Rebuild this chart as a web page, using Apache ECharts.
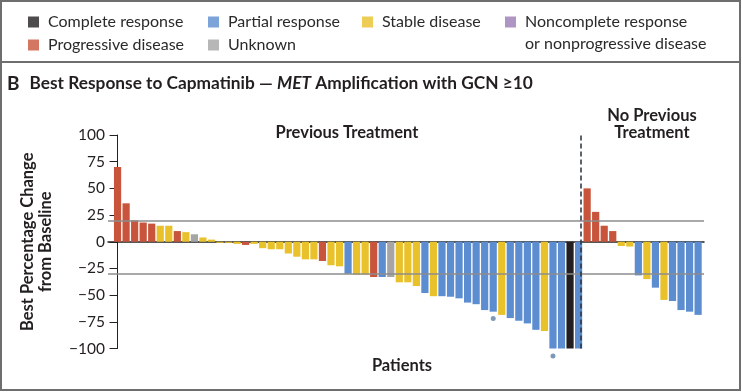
<!DOCTYPE html>
<html><head><meta charset="utf-8">
<script src="https://cdn.jsdelivr.net/npm/echarts@6/dist/echarts.min.js"></script>
<style>html,body{margin:0;padding:0;background:#fff}#c{width:742px;height:392px}</style>
</head><body><div id="c"></div>
<script>
// ---- data ----
const responseNames = {
  CR: 'Complete response',
  PR: 'Partial response',
  SD: 'Stable disease',
  NCR: 'Noncomplete response or nonprogressive disease',
  PD: 'Progressive disease',
  UNK: 'Unknown'
};
const responseColors = { CR: '#231f20', PR: '#5b8dd0', SD: '#e9c12b', NCR: '#9b7bb5', PD: '#c8543b', UNK: '#a5a5a5' };

const previousCodes = ['PD','PD','PD','PD','PD','SD','SD','PD','SD','UNK',
  'SD','SD','SD','SD','SD','PD','SD','SD','SD','SD',
  'SD','SD','SD','SD','PD','SD','SD','PR','SD','SD',
  'PD','PR','UNK','SD','SD','SD','PR','SD','PR','PR',
  'PR','PR','PR','PR','PR','SD','PR','PR','PR','PR',
  'SD','PR','PR','CR','PR'];
const previousValues = [70,36,20,18,17,15,15,10,9,7,
  4,2,-1,-1,-2,-3,-2,-6,-7,-7,
  -11,-14,-16.5,-16.5,-18,-22,-23,-30,-31,-31,
  -33,-33,-33,-38,-38,-41.5,-48,-51,-51,-51.5,
  -53,-57,-58.5,-64,-65.5,-68.5,-71.5,-74,-76.5,-82.5,
  -83.5,-100,-100,-100,-100];
const noPreviousCodes = ['PD','PD','PD','PD','SD','SD','PR','SD','PR','SD','PR','PR','PR','PR'];
const noPreviousValues = [50,28,15,10,-4,-4.5,-31.5,-35,-43,-54.5,-55.5,-64,-65.5,-68.5];

// dot markers below bars (patient index 0-based, value)
const dotMarkers = [[44, -72], [51, -107]];
const yTicks = [-100, -75, -50, -25, 0, 25, 50, 75, 100];
const referenceLines = [20, -30];

// ---- build ----
const allCodes = previousCodes.concat(noPreviousCodes);
const allValues = previousValues.concat(noPreviousValues);
const dividerAt = previousValues.length - 0.7;

const barData = allValues.map((v, i) => ({ value: [i, v], itemStyle: { color: responseColors[allCodes[i]] } }));
const FONT = 'Lato';
const TXT = '#231f20';

const legendOrder = ['CR','PR','SD','NCR','PD','UNK'];
const legendPos = {
  CR: [28, 11], PR: [208, 11], SD: [362, 11], NCR: [505, 11],
  PD: [28, 34], UNK: [208, 34]
};
const legends = legendOrder.map(k => {
  const multi = k === 'NCR';
  return {
    data: [responseNames[k]],
    left: legendPos[k][0], top: legendPos[k][1],
    padding: 0,
    icon: multi ? 'path://M0,0H11V11H0ZM0,33' : 'rect',
    itemWidth: 11, itemHeight: multi ? 33 : 11,
    selectedMode: false,
    formatter: multi ? 'Noncomplete response\nor nonprogressive disease' : '{name}',
    textStyle: { fontFamily: FONT, fontSize: 16, color: '#2a2a2a', lineHeight: 22, padding: [0, 0, 0, 4] }
  };
});
const legendSeries = legendOrder.map(k => ({
  type: 'scatter', name: responseNames[k], data: [],
  itemStyle: { color: responseColors[k] }
}));

const chart = echarts.init(document.getElementById('c'), null, { renderer: 'canvas' });
chart.setOption({
  animation: false,
  backgroundColor: '#fff',
  title: {
    text: '{b|B}  {t|Best Response to Capmatinib — }{i|MET}{t| Amplification with GCN ≥10}',
    left: 7, top: 74, padding: 0,
    textStyle: {
      rich: {
        b: { fontFamily: FONT, fontWeight: 'bold', fontSize: 19, color: TXT },
        t: { fontFamily: FONT, fontWeight: 'bold', fontSize: 17.3, color: TXT },
        i: { fontFamily: FONT, fontWeight: 'bold', fontStyle: 'italic', fontSize: 17.3, color: TXT }
      }
    }
  },
  legend: legends,
  grid: { left: 108, right: 38, top: 135, bottom: 43.5, containLabel: false },
  xAxis: {
    type: 'value', min: -1.12, max: 68.69,
    axisLine: { show: true, onZero: true, lineStyle: { color: '#222', width: 1.5 } },
    axisTick: { show: false }, axisLabel: { show: false }, splitLine: { show: false }
  },
  yAxis: {
    type: 'value', min: yTicks[0], max: yTicks[yTicks.length - 1], interval: 25,
    axisLine: { show: true, lineStyle: { color: '#222', width: 1 } },
    axisTick: { show: true, length: 8, lineStyle: { color: '#222', width: 1 } },
    axisLabel: { fontFamily: FONT, fontSize: 15.5, color: TXT, margin: 3,
      formatter: v => (v < 0 ? '\u2212' + Math.abs(v) : String(v)) },
    splitLine: { show: false },
    name: 'Best Percentage Change\nfrom Baseline',
    nameLocation: 'middle', nameRotate: 90, nameGap: 53,
    nameTextStyle: { fontFamily: FONT, fontWeight: 'bold', fontSize: 16.5, color: TXT, lineHeight: 18.5 }
  },
  series: [
    {
      type: 'line', data: [], z: 1, silent: true,
      markLine: {
        symbol: 'none', silent: true, label: { show: false },
        lineStyle: { color: '#8c8c8c', width: 1.5, type: 'solid' },
        data: referenceLines.map(y => ({ yAxis: y }))
      }
    },
    {
      type: 'bar', name: 'Patients', data: barData, barWidth: 7.2, z: 2, silent: true
    },
    {
      type: 'scatter', data: dotMarkers, symbolSize: 5, clip: false, z: 4, silent: true,
      itemStyle: { color: '#5f7fa6' }
    },
    {
      type: 'line', data: [], z: 5, silent: true,
      markLine: {
        symbol: 'none', silent: true, label: { show: false },
        lineStyle: { color: '#26303b', width: 1.5, type: [5, 3] },
        data: [{ xAxis: dividerAt }]
      }
    }
  ].concat(legendSeries),
  graphic: [
    { type: 'rect', shape: { x: 1, y: 1, width: 739, height: 389 }, style: { fill: 'none', stroke: '#6e6e6e', lineWidth: 2 }, silent: true },
    { type: 'line', shape: { x1: 0, y1: 62, x2: 741, y2: 62 }, style: { stroke: '#6e6e6e', lineWidth: 2 }, silent: true },
    { type: 'text', x: 347, y: 133, style: { text: 'Previous Treatment', font: 'bold 16.5px ' + FONT, fill: TXT, textAlign: 'center', textVerticalAlign: 'middle' } },
    { type: 'text', x: 652, y: 116, style: { text: 'No Previous', font: 'bold 16.5px ' + FONT, fill: TXT, textAlign: 'center', textVerticalAlign: 'middle' } },
    { type: 'text', x: 652, y: 133, style: { text: 'Treatment', font: 'bold 16.5px ' + FONT, fill: TXT, textAlign: 'center', textVerticalAlign: 'middle' } },
    { type: 'text', x: 402, y: 366, style: { text: 'Patients', font: 'bold 16.5px ' + FONT, fill: TXT, textAlign: 'center', textVerticalAlign: 'middle' } }
  ]
});
</script></body></html>
